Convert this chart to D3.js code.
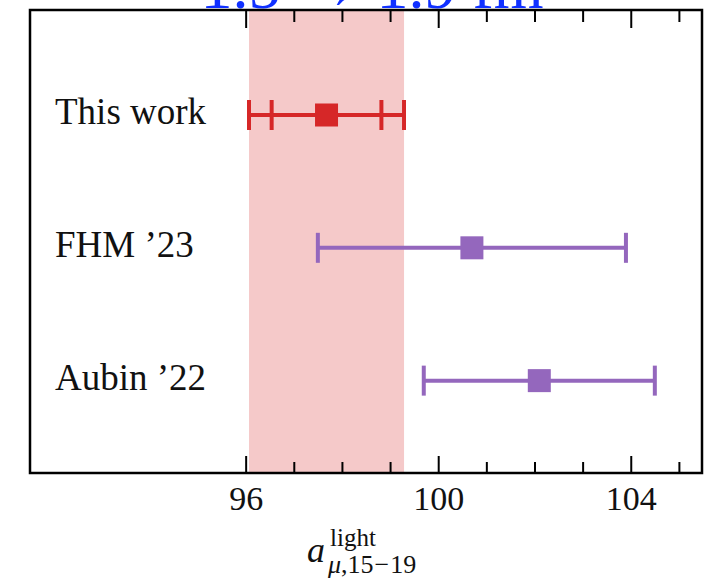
<!DOCTYPE html>
<html>
<head>
<meta charset="utf-8">
<script src="https://cdn.jsdelivr.net/npm/d3@7"></script>
<style>
  html, body { margin: 0; padding: 0; background: #fff; overflow: hidden; }
  svg { display: block; }
  text { font-family: "Liberation Serif", "DejaVu Serif", serif; fill: #111; }
</style>
</head>
<body>
<svg id="chart" width="712" height="578"></svg>
<script>
// Determinations of the light-quark window contribution, 1.5 → 1.9 fm
const labels     = ["This work", "FHM ’23", "Aubin ’22"];
const centers    = [97.68, 100.70, 102.10];
const errTotal   = [1.61, 3.20, 2.40];
const errStat    = [1.14, null, null];
const colors     = ["#d62728", "#9467bd", "#9467bd"];
const majorTicks = [96, 100, 104];
const minorTicks = [97, 98, 99, 101, 102, 103, 105];
const titleText  = "1.5 → 1.9 fm";

const W = 712, H = 578;
const plot = { left: 30, right: 702, top: 10, bottom: 473 };

const svg = d3.select("#chart");

const x = d3.scaleLinear().domain([91.52, 105.48]).range([plot.left, plot.right]);
const y = d3.scalePoint().domain(labels).range([plot.top, plot.bottom]).padding(0.743).align(0.532);

const rows = labels.map((name, i) => ({
  name, c: centers[i], tot: errTotal[i], stat: errStat[i], color: colors[i]
}));

// Title (sits partly above the visible page)
svg.append("text")
  .attr("x", 372).attr("y", 8)
  .attr("text-anchor", "middle")
  .style("font-size", "64px")
  .style("fill", "#1030ff")
  .text(titleText);

// Shaded band: this work's total uncertainty
svg.append("rect")
  .attr("x", x(centers[0] - errTotal[0]))
  .attr("y", plot.top)
  .attr("width", x(centers[0] + errTotal[0]) - x(centers[0] - errTotal[0]))
  .attr("height", plot.bottom - plot.top)
  .attr("fill", "#d62728")
  .attr("fill-opacity", 0.25);

// Error bars
const capH = 15;
const g = svg.append("g");
rows.forEach(r => {
  const yy = y(r.name);
  const eg = g.append("g").attr("stroke", r.color).attr("stroke-width", 4).attr("fill", "none");
  eg.append("line")
    .attr("x1", x(r.c - r.tot)).attr("x2", x(r.c + r.tot))
    .attr("y1", yy).attr("y2", yy);
  const caps = [r.c - r.tot, r.c + r.tot];
  if (r.stat != null) caps.push(r.c - r.stat, r.c + r.stat);
  caps.forEach(v => {
    eg.append("line")
      .attr("x1", x(v)).attr("x2", x(v))
      .attr("y1", yy - capH).attr("y2", yy + capH);
  });
  const s = 23;
  g.append("rect")
    .attr("x", x(r.c) - s / 2).attr("y", yy - s / 2)
    .attr("width", s).attr("height", s)
    .attr("fill", r.color);
});

// Row labels
svg.append("g").selectAll("text")
  .data(rows).join("text")
  .attr("x", 55)
  .attr("y", d => y(d.name) + 9)
  .style("font-size", "37px")
  .text(d => d.name);

// Axes: ticks point inwards on bottom and top
function styleAxis(sel) {
  sel.select(".domain").remove();
  sel.selectAll(".tick line").attr("stroke", "#000").attr("stroke-width", 2);
}

const bottomMajor = svg.append("g")
  .attr("transform", `translate(0,${plot.bottom})`)
  .call(d3.axisBottom(x).tickValues(majorTicks).tickSize(-17).tickFormat(d3.format("d")));
styleAxis(bottomMajor);
bottomMajor.selectAll(".tick text")
  .attr("y", 37).attr("dy", null)
  .attr("fill", "#111")
  .style("font-size", "34px")
  .style("font-family", "'Liberation Serif', serif");

const bottomMinor = svg.append("g")
  .attr("transform", `translate(0,${plot.bottom})`)
  .call(d3.axisBottom(x).tickValues(minorTicks).tickSize(-11).tickFormat(""));
styleAxis(bottomMinor);

const topMajor = svg.append("g")
  .attr("transform", `translate(0,${plot.top})`)
  .call(d3.axisTop(x).tickValues(majorTicks).tickSize(-18).tickFormat(""));
styleAxis(topMajor);

const topMinor = svg.append("g")
  .attr("transform", `translate(0,${plot.top})`)
  .call(d3.axisTop(x).tickValues(minorTicks).tickSize(-12).tickFormat(""));
styleAxis(topMinor);

// Frame
svg.append("rect")
  .attr("x", plot.left).attr("y", plot.top)
  .attr("width", plot.right - plot.left).attr("height", plot.bottom - plot.top)
  .attr("fill", "none").attr("stroke", "#000").attr("stroke-width", 2.5);

// Axis title: a^{light}_{μ,15−19}
const cx = (plot.left + plot.right) / 2;
const lab = svg.append("g");
lab.append("text")
  .attr("x", cx - 59).attr("y", 562)
  .style("font-size", "36px").style("font-style", "italic")
  .text("a");
lab.append("text")
  .attr("x", cx - 36).attr("y", 546)
  .style("font-size", "25px")
  .text("light");
const sub = lab.append("text")
  .attr("x", cx - 38).attr("y", 573)
  .style("font-size", "26px");
sub.append("tspan").style("font-style", "italic").text("μ");
sub.append("tspan").text(",15");
sub.append("tspan").attr("dx", 1).text("−");
sub.append("tspan").attr("dx", 1).text("19");
</script>
</body>
</html>
